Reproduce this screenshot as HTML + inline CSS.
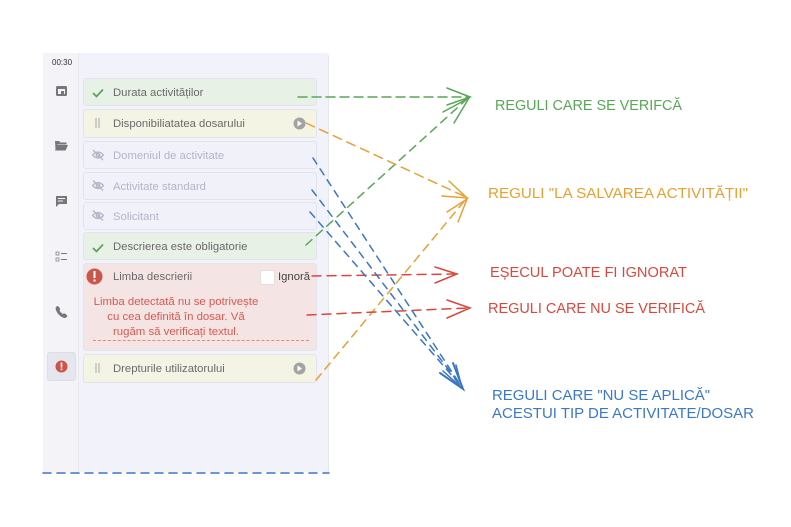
<!DOCTYPE html>
<html><head><meta charset="utf-8"><style>
html,body{margin:0;padding:0;background:#fff;}
body{width:791px;height:527px;position:relative;overflow:hidden;font-family:"Liberation Sans",sans-serif;}
.panel{position:absolute;left:43px;top:53px;width:285px;height:419px;background:#f2f2fa;border-right:1px solid #e6e6ee;border-top-right-radius:4px;}
.side{position:absolute;left:43px;top:53px;width:35px;height:419px;background:#f3f3f8;border-right:1px solid #e8e8f0;}
.card{position:absolute;left:83px;width:234px;border:1px solid #e2e3ec;border-radius:3px;box-sizing:border-box;font-size:11.3px;}
.t{position:absolute;left:29px;top:7.5px;white-space:nowrap;}
.green{background:#e8f1e6;color:#6a6a6a;}
.yel{background:#f3f4e4;color:#6a6a6a;}
.dis{background:#f1f1f9;color:#b3b5c6;}
.red{background:#f5e4e4;color:#6a6a6a;}
</style></head><body>
<div class="panel"></div>
<div class="side"></div>
<div style="position:absolute;left:52px;top:58px;font-size:8px;color:#333;">00:30</div>

<div class="card green" style="top:78px;height:28px;"><span class="t">Durata activităților</span></div>
<div class="card yel" style="top:109px;height:29px;"><span class="t">Disponibiliatatea dosarului</span></div>
<div class="card dis" style="top:141px;height:28px;"><span class="t">Domeniul de activitate</span></div>
<div class="card dis" style="top:172px;height:28px;"><span class="t">Activitate standard</span></div>
<div class="card dis" style="top:202px;height:28px;"><span class="t">Solicitant</span></div>
<div class="card green" style="top:232px;height:28px;"><span class="t">Descrierea este obligatorie</span></div>
<div class="card red" style="top:263px;height:88px;"><span class="t" style="top:7px;">Limba descrierii</span>
 <div style="position:absolute;left:176px;top:6px;width:13px;height:13px;background:#fff;border:1px solid #e3dede;border-radius:2px;"></div>
 <span style="position:absolute;left:194px;top:7px;color:#444;">Ignoră</span>
 <div style="position:absolute;left:0;width:184px;top:31px;text-align:center;color:#d65a50;font-size:11.4px;line-height:15px;">Limba detectată nu se potrivește<br>cu cea definită în dosar. Vă<br>rugăm să verificați textul.</div>
 <div style="position:absolute;left:9px;top:76px;width:216px;border-top:1px dashed #e38a85;"></div>
</div>
<div class="card yel" style="top:354px;height:29px;"><span class="t">Drepturile utilizatorului</span></div>
<div style="position:absolute;left:47px;top:352px;width:29px;height:29px;background:#e5e6ee;border:1px solid #dcdde6;border-radius:3px;box-sizing:border-box;"></div>

<svg width="791" height="527" style="position:absolute;left:0;top:0;" xmlns="http://www.w3.org/2000/svg">
 <!-- sidebar icons -->
 <g fill="#777">
  <rect x="56" y="86" width="11" height="10" rx="1.5"/>
  <rect x="58" y="89" width="7" height="5" fill="#f3f3f8"/>
  <rect x="61" y="91" width="3" height="3" fill="#777"/>
  <path d="M55 141 h4 l1.5 1.5 h6 v2 h-9 l-2 5 z"/>
  <path d="M57 145 h11 l-2.5 5.5 h-10.5 z"/>
  <path d="M56 196 h11 v8 h-8 l-3 3 z"/>
  <rect x="58" y="198" width="7" height="1" fill="#f3f3f8"/>
  <rect x="58" y="200.5" width="5" height="1" fill="#f3f3f8"/>
  <rect x="56" y="252" width="3" height="3" fill="none" stroke="#888" stroke-width="0.8"/>
  <rect x="56" y="258" width="3" height="3" fill="none" stroke="#888" stroke-width="0.8"/>
  <rect x="61" y="253" width="6" height="1"/>
  <rect x="61" y="259" width="6" height="1"/>
  <path d="M56.5 306.5 q1-1 2 0 l1.5 2 q0.5 1 -0.5 1.8 q1 2.5 3.5 3.7 q0.8 -1 1.8 -0.5 l2 1.5 q1 1 0 2 q-1.5 1.5 -3.5 0.8 q-5.5 -2.5 -7.5 -8 q-0.6 -2 0.7 -3.3z"/>
 </g>
 <circle cx="61.5" cy="366.5" r="6" fill="#c9554b"/>
 <rect x="60.7" y="362.5" width="1.6" height="5" fill="#fff"/>
 <rect x="60.7" y="368.6" width="1.6" height="1.6" fill="#fff"/>

 <!-- card icons -->
 <path d="M93 93 l3.5 3.5 l6.5 -7" fill="none" stroke="#5aa45a" stroke-width="1.8"/>
 <path d="M93 248 l3.5 3.5 l6.5 -7" fill="none" stroke="#5aa45a" stroke-width="1.8"/>
 <g stroke="#b0b0b0" stroke-width="1.1"><line x1="96" y1="118" x2="96" y2="128"/><line x1="99" y1="118" x2="99" y2="128"/>
 <line x1="96" y1="363" x2="96" y2="373"/><line x1="99" y1="363" x2="99" y2="373"/></g>
 <g fill="none" stroke="#b5b7c6" stroke-width="1.3">
  <path d="M92.5 155 q5.5 -6 11 0 q-5.5 6 -11 0z"/><circle cx="98" cy="155" r="1.8"/><line x1="93" y1="150" x2="103" y2="160"/>
  <path d="M92.5 185.5 q5.5 -6 11 0 q-5.5 6 -11 0z"/><circle cx="98" cy="185.5" r="1.8"/><line x1="93" y1="180.5" x2="103" y2="190.5"/>
  <path d="M92.5 215.5 q5.5 -6 11 0 q-5.5 6 -11 0z"/><circle cx="98" cy="215.5" r="1.8"/><line x1="93" y1="210.5" x2="103" y2="220.5"/>
 </g>
 <circle cx="94.5" cy="276.5" r="8" fill="#c9554b"/>
 <rect x="93.5" y="271" width="2" height="7" fill="#fff"/>
 <rect x="93.5" y="279.5" width="2" height="2" fill="#fff"/>
 <circle cx="299.5" cy="123.5" r="6" fill="#a3a3a3"/><path d="M297.5 120.5 l4.5 3 l-4.5 3z" fill="#fff"/>
 <circle cx="299.5" cy="368.5" r="6" fill="#a3a3a3"/><path d="M297.5 365.5 l4.5 3 l-4.5 3z" fill="#fff"/>

 <!-- connectors -->
 <g fill="none" stroke-width="1.5" stroke-linecap="round">
  <g stroke="#5aa65a">
   <line x1="298" y1="97" x2="468" y2="97" stroke-dasharray="9 5"/>
   <line x1="306" y1="245" x2="467" y2="99" stroke-dasharray="8 6"/>
   <polyline points="447,88 470,97 447,105"/>
   <polyline points="443,112 469,98 454,123"/>
  </g>
  <g stroke="#e9a033">
   <line x1="306" y1="123" x2="466" y2="197" stroke-dasharray="9 6"/>
   <line x1="316" y1="380" x2="466" y2="199" stroke-dasharray="8 6"/>
   <polyline points="449,181 467,198 442,196"/>
   <polyline points="447,212 467,199 458,222"/>
  </g>
  <g stroke="#d9483c">
   <line x1="312" y1="276" x2="455" y2="274" stroke-dasharray="9 6"/>
   <line x1="307" y1="315" x2="468" y2="308" stroke-dasharray="9 6"/>
   <polyline points="435,267 457,274 435,283"/>
   <polyline points="447,300 470,308 447,318"/>
  </g>
  <g stroke="#3a75c6">
   <line x1="313" y1="158" x2="461" y2="386" stroke-dasharray="7 6"/>
   <line x1="312" y1="190" x2="461" y2="386" stroke-dasharray="7 6"/>
   <line x1="310" y1="212" x2="461" y2="386" stroke-dasharray="7 6"/>
   <polyline points="440,373 463,389 453,363" stroke-width="2"/>
   <polyline points="443,371 462,388 456,365"/>
   <line x1="43" y1="473" x2="329" y2="473" stroke-dasharray="8 6" stroke-width="1.6"/>
  </g>
 </g>

 <!-- labels -->
 <g font-family="Liberation Sans, sans-serif" font-size="15">
  <text x="495" y="110" fill="#57a757" textLength="187" lengthAdjust="spacingAndGlyphs">REGULI CARE SE VERIFCĂ</text>
  <text x="488" y="198" fill="#e8a030" textLength="260" lengthAdjust="spacingAndGlyphs">REGULI "LA SALVAREA ACTIVITĂȚII"</text>
  <text x="490" y="277" fill="#d9483c" textLength="197" lengthAdjust="spacingAndGlyphs">EȘECUL POATE FI IGNORAT</text>
  <text x="488" y="313" fill="#d9483c" textLength="217" lengthAdjust="spacingAndGlyphs">REGULI CARE NU SE VERIFICĂ</text>
  <text x="492" y="400" fill="#3a78c8" textLength="218" lengthAdjust="spacingAndGlyphs">REGULI CARE "NU SE APLICĂ"</text>
  <text x="492" y="418" fill="#3a78c8" textLength="262" lengthAdjust="spacingAndGlyphs">ACESTUI TIP DE ACTIVITATE/DOSAR</text>
 </g>
</svg>
</body></html>
